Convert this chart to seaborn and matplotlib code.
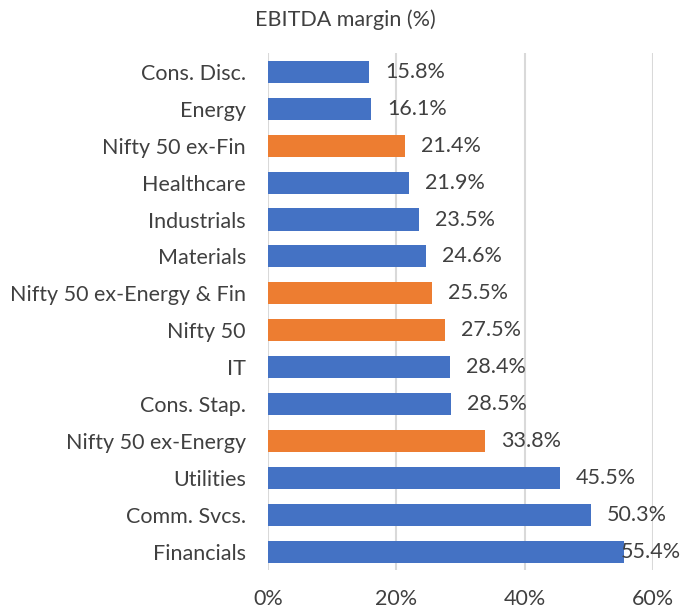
import numpy as np
import pandas as pd
import matplotlib
matplotlib.use('Agg')
import matplotlib.pyplot as plt
import seaborn as sns

# data
categories = ['Cons. Disc.', 'Energy', 'Nifty 50 ex-Fin', 'Healthcare', 'Industrials',
              'Materials', 'Nifty 50 ex-Energy & Fin', 'Nifty 50', 'IT', 'Cons. Stap.',
              'Nifty 50 ex-Energy', 'Utilities', 'Comm. Svcs.', 'Financials']
margins = [15.8, 16.1, 21.4, 21.9, 23.5, 24.6, 25.5, 27.5, 28.4, 28.5, 33.8, 45.5, 50.3, 55.4]
is_index = [False, False, True, False, False, False, True, True, False, False, True, False, False, False]
xticks = [0, 20, 40, 60]
xtick_labels = ['0%', '20%', '40%', '60%']

blue = '#4472C4'
orange = '#ED7D31'
txt = '#404040'
fs = 15.5

sns.set_theme(style='white')
plt.rcParams['font.family'] = ['Lato', 'DejaVu Sans']
plt.rcParams['text.color'] = txt

df = pd.DataFrame({'cat': categories, 'val': margins,
                   'grp': ['idx' if f else 'sec' for f in is_index]})

fig = plt.figure(figsize=(7, 6.12), dpi=100)
ax = fig.add_axes([0.383, 0.0686, 0.550, 0.844])

sns.barplot(data=df, x='val', y='cat', hue='grp', palette={'sec': blue, 'idx': orange},
            dodge=False, width=0.6, legend=False, ax=ax, edgecolor='none',
            saturation=1, zorder=3)

ax.set_xlim(0, 60)
ax.set_ylim(13.5, -0.5)
ax.set_xticks(xticks)
ax.set_xticklabels(xtick_labels, fontsize=fs, color=txt)
ax.tick_params(axis='y', labelsize=fs, labelcolor=txt, length=0, pad=16)
ax.tick_params(axis='x', length=0, pad=14)
ax.set_xlabel('')
ax.set_ylabel('')
ax.grid(axis='x', color='#D9D9D9', linewidth=1.5, zorder=0)
ax.set_axisbelow(True)
sns.despine(ax=ax, left=True, bottom=True, top=True, right=True)

for i, v in enumerate(margins):
    xt = min(v + 2.5, 54.9)
    ax.text(xt, i, f'{v:.1f}%', va='center', ha='left', fontsize=fs, color=txt, zorder=4)

fig.text(0.493, 0.967, 'EBITDA margin (%)', ha='center', va='center', fontsize=fs, color=txt)

fig.savefig('out.png', dpi=100, facecolor='white')
